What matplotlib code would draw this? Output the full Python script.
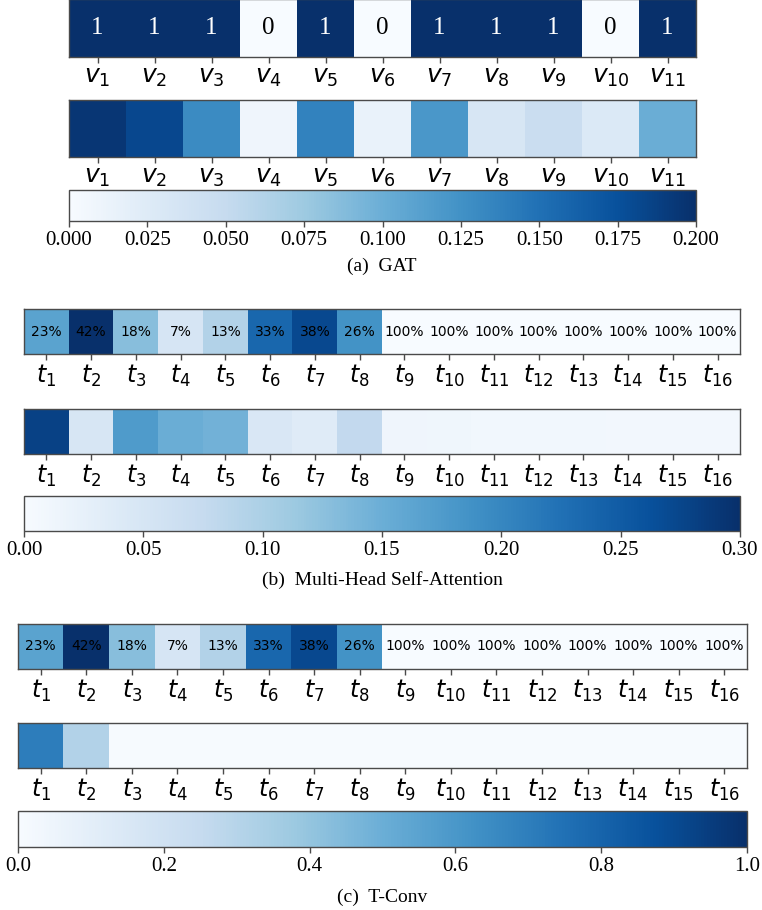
import numpy as np
import matplotlib
matplotlib.use("Agg")
import matplotlib.pyplot as plt
from matplotlib.cm import ScalarMappable
from matplotlib.colors import Normalize

W, H = 762, 910

# (a) GAT: node mask and attention weights
gat_nodes = [f"$v_{{{i}}}$" for i in range(1, 12)]
gat_mask = [1, 1, 1, 0, 1, 0, 1, 1, 1, 0, 1]
gat_attn = [0.195, 0.182, 0.130, 0.008, 0.136, 0.014, 0.120, 0.032, 0.046, 0.028, 0.100]

# (b)/(c): missing rate per time step
time_steps = [f"$t_{{{i}}}$" for i in range(1, 17)]
missing_pct = [23, 42, 18, 7, 13, 33, 38, 26, 100, 100, 100, 100, 100, 100, 100, 100]

# (b) Multi-Head Self-Attention weights
mhsa_attn = [0.280, 0.048, 0.175, 0.150, 0.145, 0.045, 0.036, 0.078,
             0.012, 0.011, 0.009, 0.009, 0.009, 0.008, 0.008, 0.008]

# (c) T-Conv weights
tconv_attn = [0.70, 0.31, 0.005, 0.005, 0.005, 0.005, 0.005, 0.005,
              0.005, 0.005, 0.005, 0.005, 0.005, 0.005, 0.005, 0.005]

SERIF = "Liberation Serif"
SPINE = "#4a4a4a"


def rect(x0, y0, x1, y1):
    return [x0 / W, 1 - y1 / H, (x1 - x0) / W, (y1 - y0) / H]


def strip(fig, box, values, labels, vmax, label_size):
    ax = fig.add_axes(rect(*box))
    ax.imshow(np.asarray(values, dtype=float)[None, :], cmap="Blues",
              vmin=0, vmax=vmax, aspect="auto", interpolation="nearest")
    ax.set_yticks([])
    ax.set_xticks(range(len(labels)))
    ax.set_xticklabels(labels, fontsize=label_size)
    ax.tick_params(axis="x", length=4, width=1, color=SPINE, pad=2)
    for s in ax.spines.values():
        s.set_color(SPINE)
        s.set_linewidth(1.0)
    return ax


def cbar(fig, box, vmax, ticks, fmt):
    cax = fig.add_axes(rect(*box))
    sm = ScalarMappable(norm=Normalize(0, vmax), cmap="Blues")
    cb = fig.colorbar(sm, cax=cax, orientation="horizontal")
    cb.set_ticks(ticks)
    cb.set_ticklabels([fmt.format(t) for t in ticks])
    cb.outline.set_edgecolor(SPINE)
    cb.outline.set_linewidth(1.0)
    cax.tick_params(length=4, width=1, color=SPINE, pad=3)
    for lbl in cax.get_xticklabels():
        lbl.set_fontfamily(SERIF)
        lbl.set_fontsize(15)
    return cb


fig = plt.figure(figsize=(W / 100, H / 100), dpi=100)

# ---- (a) GAT
ax = strip(fig, (69, -1, 696, 57), gat_mask, gat_nodes, 1.0, 18)
for i, v in enumerate(gat_mask):
    ax.text(i, 0, str(v), ha="center", va="center", fontsize=18,
            family=SERIF, color="white" if v else "black")
strip(fig, (69, 100, 696, 157), gat_attn, gat_nodes, 0.2, 18)
cbar(fig, (69, 190, 696, 221), 0.2, np.arange(0, 0.2001, 0.025), "{:.3f}")
fig.text(382 / W, 1 - 266 / H, "(a)  GAT", ha="center", va="center",
         family=SERIF, fontsize=14)

# ---- (b) Multi-Head Self-Attention
observed = [p if p < 100 else 0 for p in missing_pct]
ax = strip(fig, (24, 309, 740, 354), observed, time_steps, max(observed), 17)
for i, p in enumerate(missing_pct):
    ax.text(i, 0, f"{p}%", ha="center", va="center", fontsize=10)
strip(fig, (24, 409, 740, 454), mhsa_attn, time_steps, 0.3, 17)
cbar(fig, (24, 496, 740, 531), 0.3, np.arange(0, 0.3001, 0.05), "{:.2f}")
fig.text(382 / W, 1 - 580 / H, "(b)  Multi-Head Self-Attention", ha="center",
         va="center", family=SERIF, fontsize=14)

# ---- (c) T-Conv
ax = strip(fig, (18, 624, 747, 669), observed, time_steps, max(observed), 17)
for i, p in enumerate(missing_pct):
    ax.text(i, 0, f"{p}%", ha="center", va="center", fontsize=10)
strip(fig, (18, 723, 747, 768), tconv_attn, time_steps, 1.0, 17)
cbar(fig, (18, 811, 747, 847), 1.0, np.arange(0, 1.001, 0.2), "{:.1f}")
fig.text(382 / W, 1 - 897 / H, "(c)  T-Conv", ha="center", va="center",
         family=SERIF, fontsize=14)

fig.savefig("out.png", dpi=100)
